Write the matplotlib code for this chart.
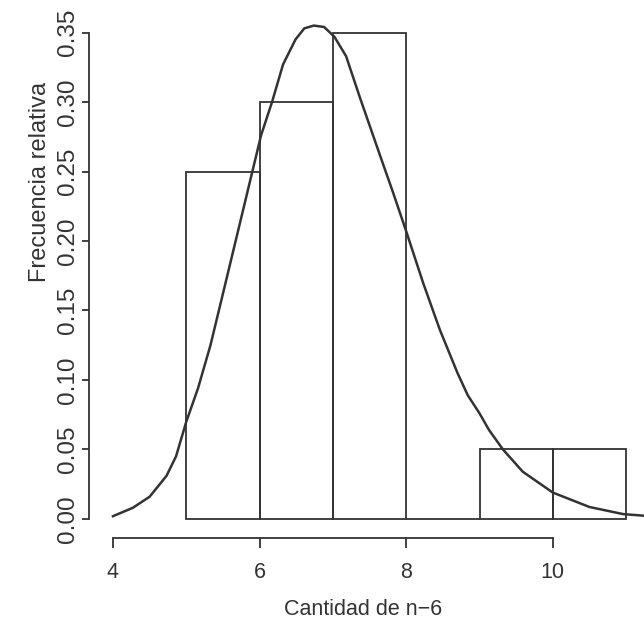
import numpy as np
import matplotlib.pyplot as plt

# relative frequency per unit bin
bin_left = [5, 6, 7, 8, 9, 10]
rel_freq = [0.25, 0.30, 0.35, 0.0, 0.05, 0.05]

# fitted density curve, sampled along x
curve_x = [4.00, 4.27, 4.50, 4.73, 4.86, 5.00, 5.16, 5.33, 5.55, 5.76,
           6.02, 6.17, 6.32, 6.49, 6.61, 6.74, 6.88, 7.02, 7.18, 7.37,
           7.66, 7.82, 8.00, 8.23, 8.46, 8.70, 8.84, 9.00, 9.13, 9.32,
           9.59, 10.00, 10.50, 10.96, 11.25]
curve_y = [0.002, 0.008, 0.016, 0.031, 0.045, 0.070, 0.094, 0.125, 0.173, 0.219,
           0.276, 0.300, 0.327, 0.345, 0.353, 0.355, 0.354, 0.347, 0.333, 0.303,
           0.259, 0.235, 0.207, 0.170, 0.136, 0.105, 0.089, 0.076, 0.064, 0.050,
           0.034, 0.019, 0.0086, 0.0035, 0.0023]

x_ticks = [4, 6, 8, 10]
y_ticks = [0.00, 0.05, 0.10, 0.15, 0.20, 0.25, 0.30, 0.35]

ink = '#333333'
plt.rcParams['font.family'] = ['Liberation Sans', 'DejaVu Sans']
plt.rcParams['font.size'] = 15.5

fig = plt.figure(figsize=(6.44, 6.30), dpi=100)
ax = fig.add_axes([89 / 644, (630 - 538) / 630, (644 - 89) / 644, 538 / 630])

ax.bar(bin_left, rel_freq, width=1.0, align='edge', fill=False,
       edgecolor=ink, linewidth=1.3)
ax.plot(curve_x, curve_y, color=ink, linewidth=1.8, solid_joinstyle='round')

ax.set_xlim(3.673, 11.244)
ax.set_ylim(-0.0137, 0.3734)

for side in ['top', 'right']:
    ax.spines[side].set_visible(False)
ax.spines['left'].set_bounds(0, 0.35)
ax.spines['bottom'].set_bounds(4, 10)
for side in ['left', 'bottom']:
    ax.spines[side].set_color(ink)
    ax.spines[side].set_linewidth(1.3)

ax.set_xticks(x_ticks)
ax.set_xticklabels([str(t) for t in x_ticks])
ax.set_yticks(y_ticks)
ax.set_yticklabels(['%.2f' % t for t in y_ticks])
ax.tick_params(axis='x', length=7, width=1.3, color=ink, labelcolor=ink, pad=10)
ax.tick_params(axis='y', length=5, width=1.3, color=ink, labelcolor=ink,
               pad=2.5, labelsize=17.5)
for lab in ax.get_yticklabels():
    lab.set_rotation(90)
    lab.set_va('center')
    lab.set_ha('right')

ax.set_xlabel('Cantidad de n\u22126', color=ink)
ax.xaxis.set_label_coords(0.494, -0.132)
ax.xaxis.label.set_va('center')
ax.set_ylabel('Frecuencia relativa', color=ink, fontsize=17)
ax.yaxis.set_label_coords(-0.088, 0.662)
ax.yaxis.label.set_va('center')

fig.savefig('out.png', dpi=100)
